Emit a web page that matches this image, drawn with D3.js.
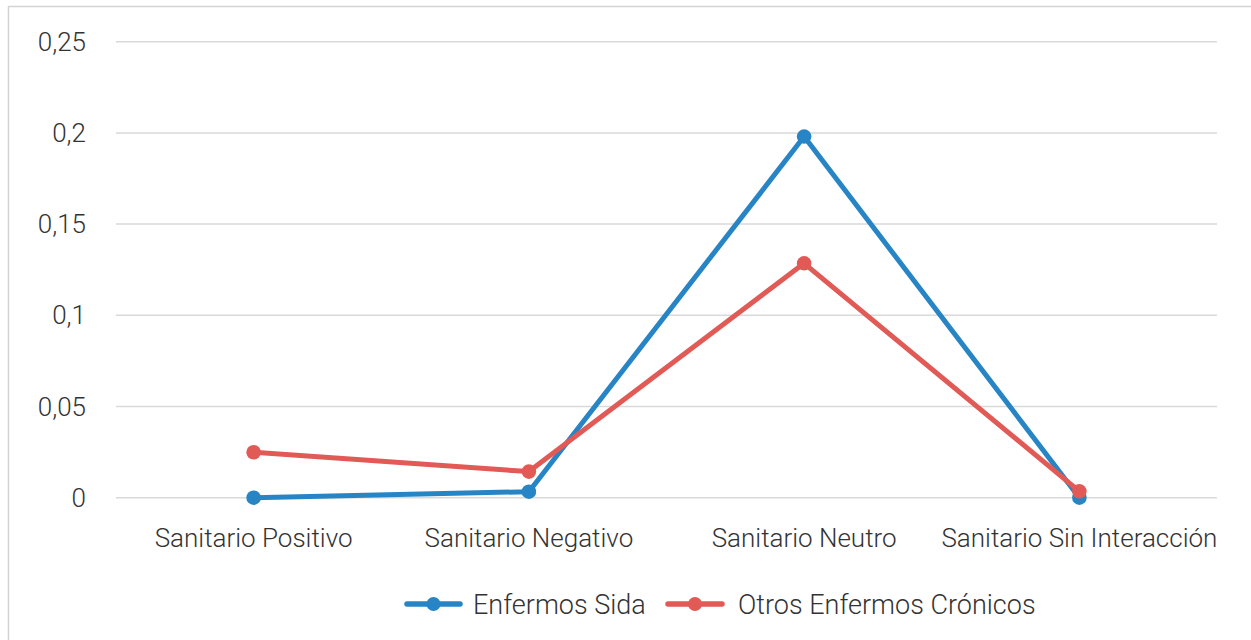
<!DOCTYPE html>
<html>
<head>
<meta charset="utf-8">
<script src="https://cdn.jsdelivr.net/npm/d3@7"></script>
<style>
  html, body { margin: 0; padding: 0; background: #fff; }
  svg text { font-family: "Helvetica Neue", Roboto, "Liberation Sans", Arial, sans-serif; font-weight: 300; fill: #333333; }
</style>
</head>
<body>
<svg id="chart" width="1251" height="640"></svg>
<script>
// Categories and series values
const categories = ["Sanitario Positivo", "Sanitario Negativo", "Sanitario Neutro", "Sanitario Sin Interacción"];
const seriesNames = ["Enfermos Sida", "Otros Enfermos Crónicos"];
const sidaValues = [0.0, 0.0033, 0.198, 0.0];
const cronicosValues = [0.0249, 0.0143, 0.1285, 0.0035];
const yTicks = [0, 0.05, 0.1, 0.15, 0.2, 0.25];
const yTickLabels = ["0", "0,05", "0,1", "0,15", "0,2", "0,25"];
const colors = ["#2785c5", "#e15a56"];

const svg = d3.select("#chart");
const plotLeft = 116, plotRight = 1217, plotTop = 41.7, plotBottom = 497.7;

// Outer frame
svg.append("rect")
  .attr("x", 8.5).attr("y", 6.5)
  .attr("width", 1300).attr("height", 700)
  .attr("fill", "none").attr("stroke", "#d4d4d4").attr("stroke-width", 1.5);

const x = d3.scalePoint().domain(categories).range([plotLeft, plotRight]).padding(0.5);
const y = d3.scaleLinear().domain([0, 0.25]).range([plotBottom, plotTop]);

// Horizontal gridlines
svg.append("g").selectAll("line").data(yTicks).join("line")
  .attr("x1", plotLeft).attr("x2", plotRight)
  .attr("y1", d => y(d)).attr("y2", d => y(d))
  .attr("stroke", "#d9d9d9").attr("stroke-width", 1.5);

// Y axis tick labels
svg.append("g").selectAll("text").data(yTicks).join("text")
  .attr("x", 86).attr("y", d => y(d))
  .attr("dy", "0.35em")
  .attr("text-anchor", "end")
  .attr("font-size", 26)
  .text((d, i) => yTickLabels[i]);

// X axis category labels
svg.append("g").selectAll("text").data(categories).join("text")
  .attr("x", d => x(d)).attr("y", 547)
  .attr("text-anchor", "middle")
  .attr("font-size", 26)
  .text(d => d);

const series = [sidaValues, cronicosValues];
const line = d3.line().x((d, i) => x(categories[i])).y(d => y(d));

series.forEach((vals, s) => {
  const g = svg.append("g");
  g.append("path").datum(vals)
    .attr("d", line)
    .attr("fill", "none")
    .attr("stroke", colors[s]).attr("stroke-width", 5)
    .attr("stroke-linejoin", "round").attr("stroke-linecap", "round");
  g.selectAll("circle").data(vals).join("circle")
    .attr("cx", (d, i) => x(categories[i])).attr("cy", d => y(d))
    .attr("r", 7.3).attr("fill", colors[s]);
});

// Legend
const legendY = 604;
const legendItems = [
  { x0: 407, x1: 460, tx: 473 },
  { x0: 668, x1: 722, tx: 738 }
];
legendItems.forEach((it, s) => {
  const g = svg.append("g");
  g.append("line").attr("x1", it.x0).attr("x2", it.x1)
    .attr("y1", legendY).attr("y2", legendY)
    .attr("stroke", colors[s]).attr("stroke-width", 5.5).attr("stroke-linecap", "round");
  g.append("circle").attr("cx", (it.x0 + it.x1) / 2).attr("cy", legendY)
    .attr("r", 7).attr("fill", colors[s]);
  g.append("text").attr("x", it.tx).attr("y", legendY).attr("dy", "0.36em")
    .attr("font-size", 27)
    .text(seriesNames[s]);
});
</script>
</body>
</html>
